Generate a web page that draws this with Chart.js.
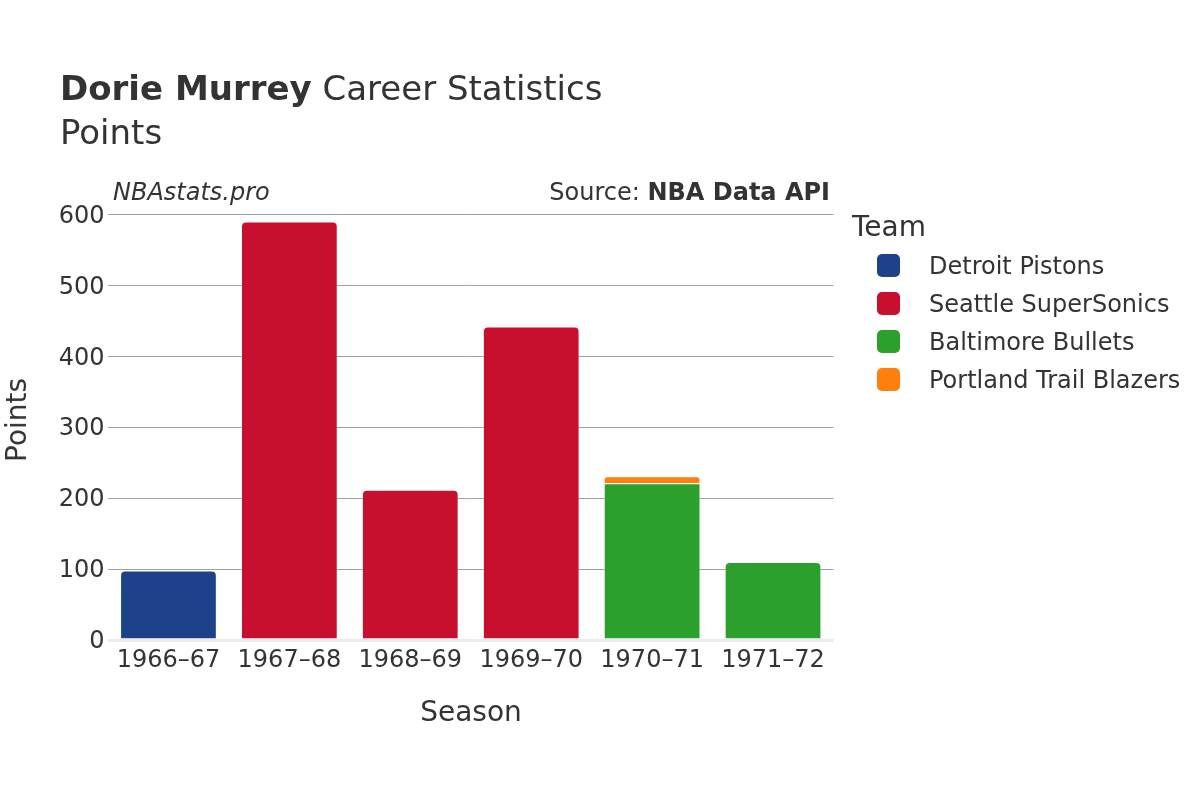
<!DOCTYPE html>
<html>
<head>
<meta charset="utf-8">
<script src="https://cdn.jsdelivr.net/npm/chart.js@4"></script>
<style>
  html, body { margin: 0; padding: 0; background: #fff; }
  #wrap { position: relative; width: 1200px; height: 800px; font-family: "DejaVu Sans", sans-serif; color: #333; }
  #wrap canvas { position: absolute; left: 0; top: 0; }
  .txt { position: absolute; line-height: 1; white-space: nowrap; }
  .legend-item { position: absolute; left: 877px; height: 22px; }
  .legend-item .sw { position: absolute; left: 0; top: 0; width: 23px; height: 23px; border-radius: 5px; }
  .legend-item .lb { position: absolute; left: 52px; top: 0; font-size: 24px; line-height: 1; white-space: nowrap; }
</style>
</head>
<body>
<div id="wrap">
  <canvas id="chart" width="1200" height="800"></canvas>
  <div class="txt" style="left:60px; top:71px; font-size:34px;"><b>Dorie Murrey</b> Career Statistics</div>
  <div class="txt" style="left:60px; top:115px; font-size:34px;">Points</div>
  <div class="txt" style="left:113px; top:179.5px; font-size:24px; font-style:italic;">NBAstats.pro</div>
  <div class="txt" style="right:370px; top:179.5px; font-size:24px;">Source: <b>NBA Data API</b></div>
  <div class="txt" style="left:471px; top:697.5px; font-size:28px; transform:translateX(-50%);">Season</div>
  <div class="txt" style="left:17px; top:420px; font-size:28px; transform:translate(-50%,-50%) rotate(-90deg);">Points</div>
  <div class="txt" style="left:852px; top:212.5px; font-size:28px;">Team</div>
  <div id="legend"></div>
</div>
<script>
// data
const seasons = ["1966–67", "1967–68", "1968–69", "1969–70", "1970–71", "1971–72"]
const teams = ["Detroit Pistons", "Seattle SuperSonics", "Baltimore Bullets", "Portland Trail Blazers"]
const teamColors = ["#1d428a", "#c8102e", "#2ca02c", "#ff7f0e"]
const detroitPts = [98, null, null, null, null, null]
const seattlePts = [null, 590, 212, 442, null, null]
const baltimorePts = [null, null, null, null, 221, 110]
const portlandPts = [null, null, null, null, 10, null]
const yTicks = [0, 100, 200, 300, 400, 500, 600]

const teamData = [detroitPts, seattlePts, baltimorePts, portlandPts]

// legend
const legend = document.getElementById("legend")
teams.forEach((name, i) => {
  const item = document.createElement("div")
  item.className = "legend-item"
  item.style.top = 254 + i * 38 + "px"
  item.innerHTML = '<div class="sw" style="background:' + teamColors[i] + '"></div><div class="lb">' + name + "</div>"
  legend.appendChild(item)
})

const ctx = document.getElementById("chart").getContext("2d")
new Chart(ctx, {
  type: "bar",
  data: {
    labels: seasons,
    datasets: teams.map((name, i) => ({
      label: name,
      data: teamData[i],
      backgroundColor: teamColors[i],
      borderColor: "rgba(255,255,255,0.45)",
      borderWidth: 1,
      borderRadius: 5,
      borderSkipped: "start",
      barPercentage: 0.8,
      categoryPercentage: 1,
    })),
  },
  options: {
    responsive: false,
    animation: false,
    layout: {
      padding: { left: 0, top: 214.5, right: 366.5, bottom: 0 },
    },
    plugins: {
      legend: { display: false },
      title: { display: false },
      tooltip: { enabled: false },
    },
    scales: {
      x: {
        stacked: true,
        grid: { display: false },
        border: { display: false },
        ticks: {
          color: "#333",
          font: { family: "DejaVu Sans", size: 24 },
          padding: -2,
          maxRotation: 0,
        },
        afterFit: (scale) => {
          scale.height = 160
        },
      },
      y: {
        stacked: true,
        min: 0,
        max: 600,
        afterBuildTicks: (scale) => {
          scale.ticks = yTicks.map((v) => ({ value: v }))
        },
        grid: {
          drawTicks: false,
          color: (c) => (c.tick && c.tick.value === 0 ? "#ebebeb" : "#a0a0a0"),
          lineWidth: (c) => (c.tick && c.tick.value === 0 ? 3 : 1),
        },
        border: { display: false },
        ticks: {
          color: "#333",
          font: { family: "DejaVu Sans", size: 24 },
          padding: 3.5,
          labelOffset: 2,
        },
        afterFit: (scale) => {
          scale.width = 108
        },
      },
    },
  },
})
</script>
</body>
</html>
